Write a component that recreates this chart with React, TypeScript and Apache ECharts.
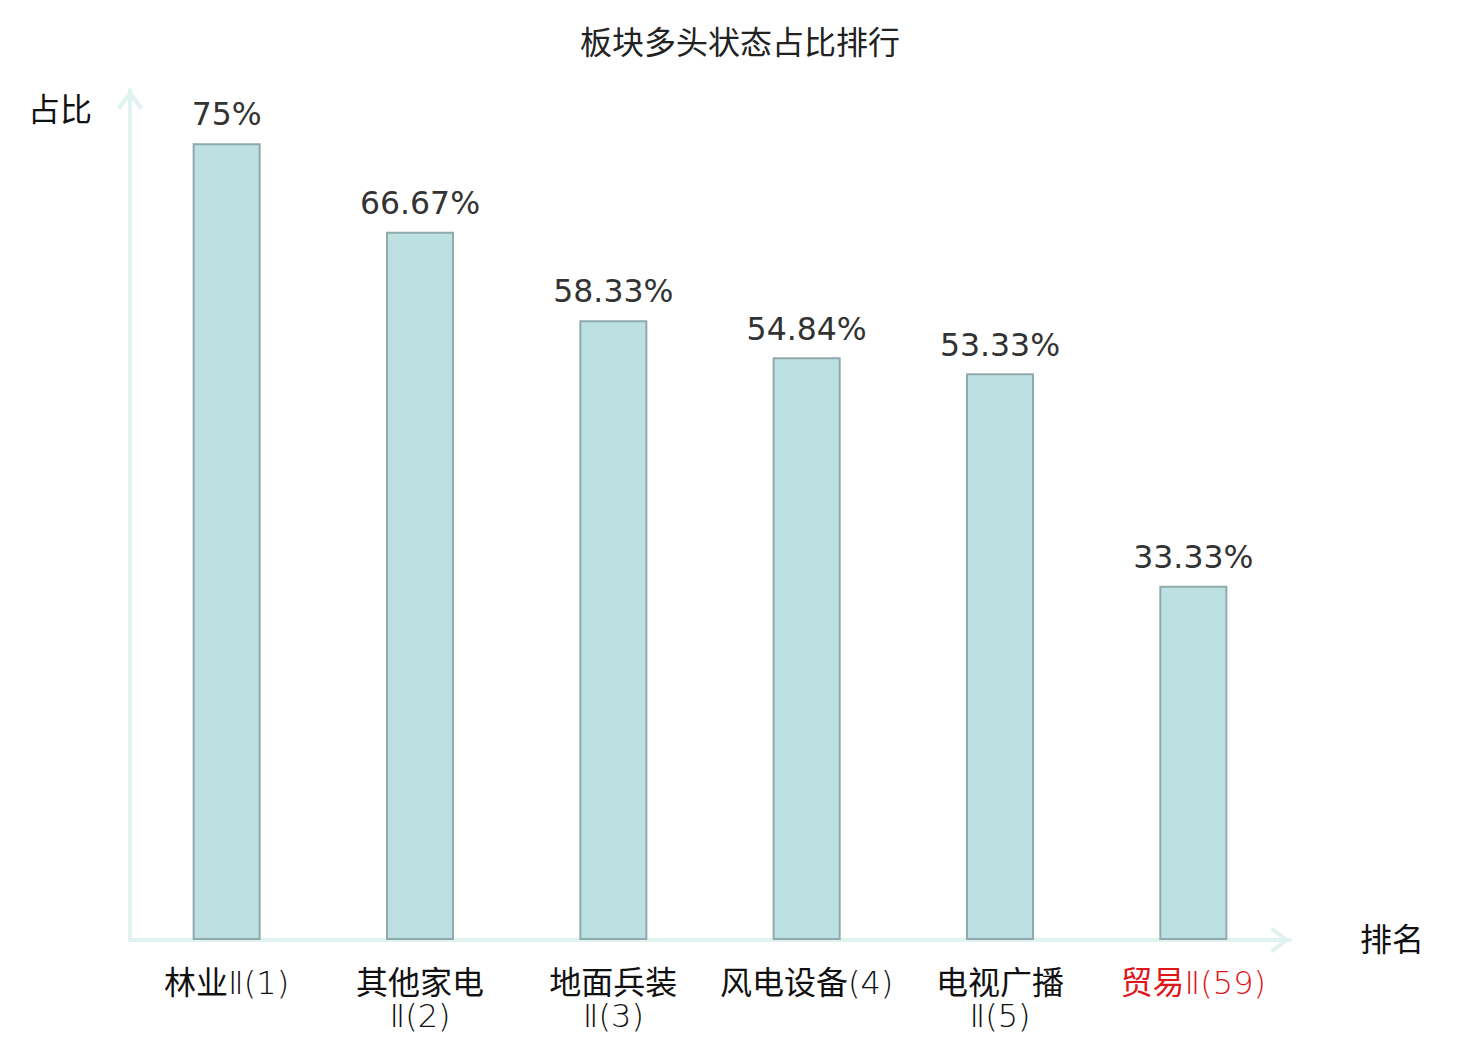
import React, { useEffect, useRef } from "react";
import * as echarts from "echarts";

const chartTitle = "板块多头状态占比排行";
const categories = ["林业Ⅱ(1)", "其他家电\nⅡ(2)", "地面兵装\nⅡ(3)", "风电设备(4)", "电视广播\nⅡ(5)", "贸易Ⅱ(59)"];
const values = [75, 66.67, 58.33, 54.84, 53.33, 33.33];
const highlightIndex = 5;
const yAxisName = "占比";
const xAxisName = "排名";

const FONT = "'DejaVu Sans', 'Noto Sans CJK SC', sans-serif";
const LIGHT_FONT = "'DejaVu Sans Light', 'Noto Sans CJK SC', sans-serif";
const AXIS_COLOR = "#e0f3f0";
const ARROW = "path://M13,0 L26,17 L23,20 L13,7 L3,20 L0,17 Z";

export default function App() {
  const ref = useRef<HTMLDivElement>(null);
  useEffect(() => {
    if (!ref.current) return;
    const chart = echarts.init(ref.current, undefined, { renderer: "svg" });
    const axisLine = {
      show: true,
      symbol: ["none", ARROW],
      symbolSize: [26, 20],
      symbolOffset: [0, -10],
      lineStyle: { color: AXIS_COLOR, width: 4 },
    };
    chart.setOption({
      animation: false,
      backgroundColor: "#ffffff",
      textStyle: { fontFamily: FONT },
      title: {
        text: chartTitle,
        left: "center",
        top: 22,
        textStyle: { fontFamily: FONT, fontSize: 32, fontWeight: "normal", color: "#222222" },
      },
      grid: { left: 130, right: 190, top: 90, bottom: 100, containLabel: false },
      xAxis: {
        type: "category",
        data: categories,
        name: xAxisName,
        nameLocation: "end",
        nameGap: 70,
        nameTextStyle: { fontFamily: FONT, fontSize: 32, color: "#111111" },
        axisLine,
        axisTick: { show: false },
        splitLine: { show: false },
        axisLabel: {
          interval: 0,
          margin: 26,
          fontFamily: LIGHT_FONT,
          fontSize: 32,
          lineHeight: 33,
          color: (_v: any, i: number) => (i === highlightIndex ? "#e0161b" : "#111111"),
        },
      },
      yAxis: {
        type: "value",
        min: 0,
        max: 80,
        name: yAxisName,
        nameLocation: "end",
        nameGap: -20,
        nameTextStyle: {
          fontFamily: FONT,
          fontSize: 32,
          color: "#111111",
          align: "right",
          verticalAlign: "middle",
          padding: [0, 38, 0, 0],
        },
        axisLine,
        axisTick: { show: false },
        axisLabel: { show: false },
        splitLine: { show: false },
      },
      series: [
        {
          type: "bar",
          data: values,
          barWidth: 68,
          itemStyle: { color: "#bde0e3", borderColor: "#8eaaaa", borderWidth: 2 },
          label: {
            show: true,
            position: "top",
            distance: 13,
            fontFamily: FONT,
            fontSize: 31.5,
            color: "#333333",
            formatter: (p: any) => `${p.value}%`,
          },
        },
      ],
    });
    return () => chart.dispose();
  }, []);
  return (
    <div
      ref={ref}
      style={{ position: "fixed", left: 0, top: 0, width: 1480, height: 1040, background: "#fff" }}
    />
  );
}
